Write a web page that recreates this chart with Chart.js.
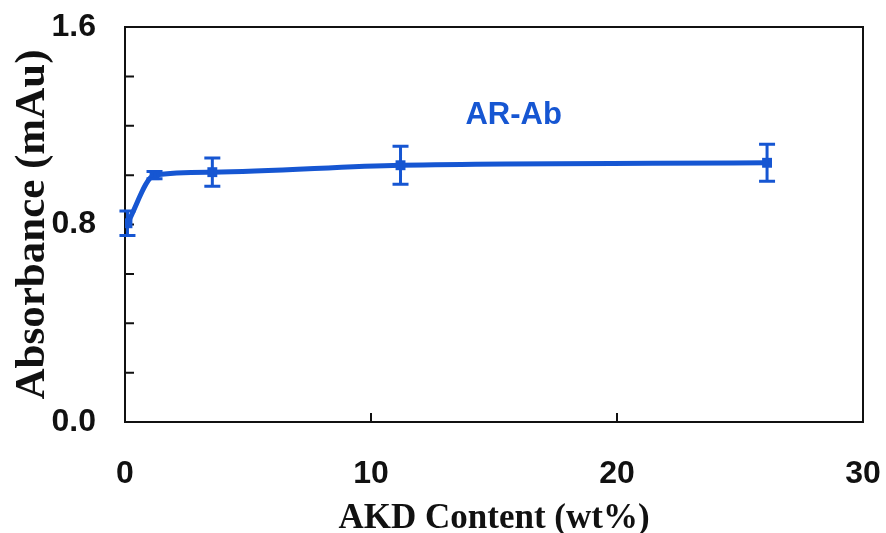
<!DOCTYPE html>
<html>
<head>
<meta charset="utf-8">
<script src="https://cdn.jsdelivr.net/npm/chart.js@4.4.1/dist/chart.umd.min.js"></script>
<style>
html,body{margin:0;padding:0;background:#fff;}
#wrap{width:886px;height:533px;}
</style>
</head>
<body>
<div id="wrap"><canvas id="c" width="886" height="533"></canvas></div>
<script>
// ---- data ----
const akdContent = [0.1, 1.2, 3.55, 11.2, 26.1];        // wt %
const absorbance = [0.805, 1.0, 1.012, 1.04, 1.05];    // mAu
const errorBars  = [0.05, 0.015, 0.057, 0.077, 0.075];
const seriesName = 'AR-Ab';
const xTickLabels = ['0', '10', '20', '30'];
const yTickLabels = ['0.0', '0.8', '1.6'];
const labelPos = [15.8, 1.24];

const BLUE = '#1656d2';
const TICK_FONT = '"Liberation Sans", Arial, sans-serif';

const frameAndTicks = {
  id: 'frameAndTicks',
  beforeDatasetsDraw(chart) {
    const {ctx, chartArea: a, scales: {x, y}} = chart;
    ctx.save();
    ctx.strokeStyle = '#111';
    ctx.lineWidth = 2;
    ctx.strokeRect(a.left, a.top, a.right - a.left, a.bottom - a.top);
    ctx.beginPath();
    y.ticks.forEach(t => {
      const py = y.getPixelForValue(t.value);
      ctx.moveTo(a.left, py); ctx.lineTo(a.left + 9, py);
    });
    x.ticks.forEach(t => {
      const px = x.getPixelForValue(t.value);
      ctx.moveTo(px, a.bottom); ctx.lineTo(px, a.bottom - 9);
    });
    ctx.stroke();
    ctx.restore();
  }
};

const errorBarPlugin = {
  id: 'errorBars',
  afterDatasetsDraw(chart) {
    const {ctx, scales: {x, y}} = chart;
    ctx.save();
    ctx.strokeStyle = BLUE;
    ctx.lineWidth = 3;
    ctx.beginPath();
    akdContent.forEach((xv, i) => {
      const px = x.getPixelForValue(xv);
      const t = y.getPixelForValue(absorbance[i] + errorBars[i]);
      const b = y.getPixelForValue(absorbance[i] - errorBars[i]);
      ctx.moveTo(px, t); ctx.lineTo(px, b);
      ctx.moveTo(px - 8, t); ctx.lineTo(px + 8, t);
      ctx.moveTo(px - 8, b); ctx.lineTo(px + 8, b);
    });
    ctx.stroke();
    // series label
    ctx.fillStyle = BLUE;
    ctx.font = 'bold 31px "Liberation Sans", Arial, sans-serif';
    ctx.textAlign = 'center';
    ctx.textBaseline = 'middle';
    ctx.fillText(seriesName, x.getPixelForValue(labelPos[0]), y.getPixelForValue(labelPos[1]));
    ctx.restore();
  }
};

new Chart(document.getElementById('c'), {
  type: 'line',
  data: {
    datasets: [{
      label: seriesName,
      data: akdContent.map((v, i) => ({x: v, y: absorbance[i]})),
      borderColor: BLUE,
      backgroundColor: BLUE,
      borderWidth: 5,
      cubicInterpolationMode: 'monotone',
      pointStyle: 'rect',
      pointRadius: 7,
      pointBorderWidth: 0,
      fill: false
    }]
  },
  options: {
    responsive: false,
    animation: false,
    devicePixelRatio: 1,
    layout: {padding: {top: 27, right: 23, left: 0, bottom: 0}},
    plugins: {legend: {display: false}, tooltip: {enabled: false}},
    scales: {
      x: {
        type: 'linear',
        min: 0, max: 30,
        afterFit: s => { s.height = 111; s.paddingLeft = 0; s.paddingRight = 0; },
        grid: {display: false, drawTicks: false},
        border: {display: false},
        ticks: {
          stepSize: 10,
          padding: 33,
          color: '#111',
          font: {family: TICK_FONT, weight: 'bold', size: 32},
          callback: v => { const i = xTickLabels.indexOf(String(v)); return i >= 0 ? xTickLabels[i] : ''; }
        },
        title: {
          display: true,
          text: 'AKD Content (wt%)',
          color: '#111',
          font: {family: '"Liberation Serif", "Times New Roman", serif', weight: 'bold', size: 35, lineHeight: 1},
          padding: {top: 0, bottom: -3}
        }
      },
      y: {
        min: 0, max: 1.6,
        afterFit: s => { s.width = 125; s.paddingTop = 0; s.paddingBottom = 0; },
        grid: {display: false, drawTicks: false},
        border: {display: false},
        ticks: {
          stepSize: 0.2,
          padding: 29,
          color: '#111',
          font: {family: TICK_FONT, weight: 'bold', size: 32},
          callback: v => { const s = v.toFixed(1); return yTickLabels.includes(s) ? s : ''; }
        },
        title: {
          display: true,
          text: 'Absorbance (mAu)',
          color: '#111',
          font: {family: '"Liberation Serif", "Times New Roman", serif', weight: 'bold', size: 43, lineHeight: 1},
          padding: {top: 11, bottom: 0}
        }
      }
    }
  },
  plugins: [frameAndTicks, errorBarPlugin]
});
</script>
</body>
</html>
